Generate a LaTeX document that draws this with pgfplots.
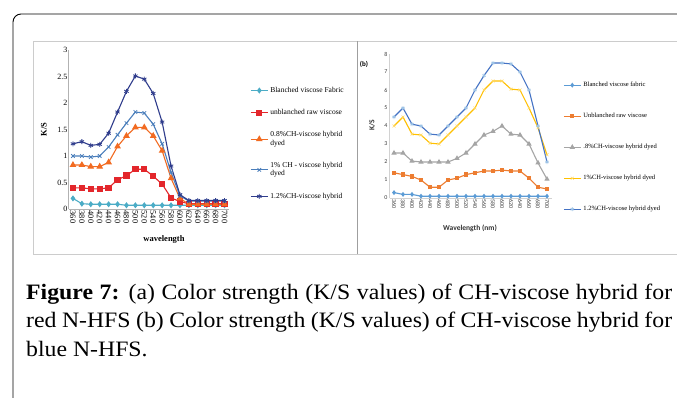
\documentclass[border=0pt]{standalone}
\usepackage{fontspec}
\setmainfont{Liberation Serif}
\newfontfamily\calibri{Carlito}
\newfontfamily\capfont{Liberation Serif}[FakeStretch=1.08]
\usepackage{pgfplots}
\usepackage{pgfplotstable}
\pgfplotsset{compat=1.18}

\definecolor{lcyan}{HTML}{4BACC6}
\definecolor{lred}{HTML}{E3262B}
\definecolor{lorange}{HTML}{F26B21}
\definecolor{lblue}{HTML}{4A7EBB}
\definecolor{lnavy}{HTML}{2F3C8C}
\definecolor{rblue}{HTML}{5B9BD5}
\definecolor{rorange}{HTML}{ED7D31}
\definecolor{rgray}{HTML}{A5A5A5}
\definecolor{ryellow}{HTML}{FFC000}
\definecolor{rdblue}{HTML}{4472C4}

% (a) red N-HFS
\pgfplotstableread{
x a b c d e
0  0.20 0.40 0.83 1.00 1.23
1  0.10 0.40 0.83 1.00 1.27
2  0.09 0.38 0.80 0.98 1.20
3  0.09 0.38 0.80 1.00 1.22
4  0.09 0.40 0.88 1.17 1.43
5  0.09 0.55 1.18 1.40 1.83
6  0.07 0.63 1.38 1.62 2.22
7  0.07 0.75 1.54 1.83 2.51
8  0.07 0.75 1.54 1.81 2.45
9  0.07 0.62 1.38 1.60 2.18
10 0.07 0.47 1.10 1.23 1.64
11 0.07 0.21 0.58 0.69 0.81
12 0.07 0.14 0.20 0.25 0.27
13 0.07 0.10 0.09 0.15 0.16
14 0.07 0.10 0.09 0.15 0.16
15 0.07 0.10 0.09 0.15 0.16
16 0.07 0.10 0.09 0.15 0.16
17 0.07 0.10 0.09 0.15 0.16
}\tableA

% (b) blue N-HFS
\pgfplotstableread{
x a b c d e
0  0.30 1.40 2.50 4.00 4.50
1  0.20 1.30 2.50 4.50 5.00
2  0.20 1.20 2.05 3.55 4.10
3  0.10 1.00 2.00 3.50 4.00
4  0.10 0.60 2.00 3.05 3.55
5  0.10 0.60 2.00 3.00 3.50
6  0.10 1.00 2.00 3.50 4.00
7  0.10 1.10 2.20 4.00 4.50
8  0.10 1.30 2.50 4.50 5.00
9  0.10 1.40 3.00 5.00 6.00
10 0.10 1.50 3.50 6.00 6.80
11 0.10 1.50 3.70 6.50 7.50
12 0.10 1.55 4.00 6.50 7.50
13 0.10 1.50 3.55 6.05 7.45
14 0.10 1.50 3.50 6.00 7.00
15 0.10 1.10 3.00 5.00 6.00
16 0.10 0.60 1.95 3.90 4.00
17 0.10 0.50 1.05 2.40 2.00
}\tableB

\begin{document}
\begin{tikzpicture}
\useasboundingbox (0pt,0pt) rectangle (677pt,397pt);
\fill[white] (0pt,0pt) rectangle (677pt,397pt);
% outer frame
\draw[black, line width=0.9pt, rounded corners=8pt] (13pt,-10pt) -- (13pt,383pt) -- (700pt,383pt);
% panels
\draw[gray!40, line width=0.6pt] (33pt,143pt) rectangle (357pt,356pt);
\draw[gray!40, line width=0.6pt] (357pt,356pt) -- (690pt,356pt);
\draw[gray!40, line width=0.6pt] (357pt,143pt) -- (690pt,143pt);
\draw[gray!75, line width=1pt] (357pt,143pt) -- (357pt,356pt);

% ---------- (a) ----------
\begin{axis}[
  at={(68.5pt,188pt)}, anchor=south west, scale only axis,
  width=160.5pt, height=159pt,
  xmin=-0.5, xmax=17.5, ymin=0, ymax=3,
  axis lines*=left, axis line style={gray!60, line width=0.5pt},
  tick style={draw=none},
  xtick={0,...,17},
  xticklabels={360,380,400,420,440,460,480,500,520,540,560,580,600,620,640,660,680,700},
  ytick={0,0.5,1,1.5,2,2.5,3},
  yticklabels={0,0.5,1,1.5,2,2.5,3},
  /pgf/number format/assume math mode=true,
  x tick label style={rotate=-90, anchor=west, font=\fontsize{8.3}{8.3}\selectfont, inner sep=1.5pt},
  y tick label style={font=\fontsize{8}{8}\selectfont, inner sep=1pt},
  ylabel={\textbf{K/S}}, xlabel={\textbf{wavelength}},
  label style={font=\fontsize{8.5}{9}\selectfont},
  ylabel style={at={(axis description cs:-0.153,0.5)}, anchor=center},
  xlabel style={at={(axis description cs:0.595,-0.189)}, anchor=center},
  legend style={at={(axis description cs:1.131,0.78)}, anchor=north west,
    draw=none, fill=none, font=\fontsize{7.5}{8.5}\selectfont,
    row sep=11.5pt, cells={align=left}, inner sep=0pt},
  legend cell align=left,
  every axis plot/.append style={line width=1.1pt},
]
\addplot[color=lcyan, mark=diamond*, mark size=2.2pt] table[x=x,y=a]{\tableA};
\addlegendentry{Blanched viscose Fabric}
\addplot[color=lred, mark=square*, mark size=2.6pt] table[x=x,y=b]{\tableA};
\addlegendentry{unblanched raw viscose}
\addplot[color=lorange, mark=triangle*, mark size=2.8pt] table[x=x,y=c]{\tableA};
\addlegendentry{0.8\%CH-viscose hybrid\\dyed}
\addplot[color=lblue, mark=x, mark size=2.5pt, mark options={line width=0.8pt}] table[x=x,y=d]{\tableA};
\addlegendentry{1\% CH - viscose hybrid\\dyed}
\addplot[color=lnavy, mark=asterisk, mark size=2.5pt, mark options={line width=0.8pt}] table[x=x,y=e]{\tableA};
\addlegendentry{1.2\%CH-viscose hybrid}
\end{axis}

% ---------- (b) ----------
\node[anchor=center, font=\calibri\bfseries\fontsize{7}{7}\selectfont] at (364pt,333pt) {(b)};
\begin{axis}[
  at={(389.5pt,199pt)}, anchor=south west, scale only axis,
  width=162pt, height=144pt,
  xmin=-0.5, xmax=17.5, ymin=0, ymax=8,
  axis lines*=left, axis line style={gray!35, line width=0.5pt},
  tick style={draw=none},
  xtick={0,...,17},
  xticklabels={360,380,400,420,440,460,480,500,520,540,560,580,600,620,640,660,680,700},
  ytick={0,1,...,8},
  yticklabels={0,1,2,3,4,5,6,7,8},
  /pgf/number format/assume math mode=true,
  x tick label style={rotate=-90, anchor=west, font=\calibri\fontsize{6}{6}\selectfont, text=black!75, inner sep=1.5pt},
  y tick label style={font=\calibri\fontsize{6}{6}\selectfont, text=black!75, inner sep=2pt},
  ylabel={K/S}, xlabel={Wavelength (nm)},
  label style={font=\calibri\bfseries\fontsize{7.5}{8}\selectfont, text=black!80},
  ylabel style={at={(axis description cs:-0.108,0.507)}, anchor=center},
  xlabel style={at={(axis description cs:0.497,-0.208)}, anchor=center},
  legend style={at={(axis description cs:1.071,0.82)}, anchor=north west,
    draw=none, fill=none, font=\fontsize{6.5}{7}\selectfont,
    row sep=21pt, inner sep=0pt},
  legend cell align=left,
  every axis plot/.append style={line width=1.1pt},
]
\addplot[color=rblue, mark=diamond*, mark size=1.6pt] table[x=x,y=a]{\tableB};
\addlegendentry{Blanched viscose fabric}
\addplot[color=rorange, mark=square*, mark size=1.6pt] table[x=x,y=b]{\tableB};
\addlegendentry{Unblanched raw viscose}
\addplot[color=rgray, mark=triangle*, mark size=2pt] table[x=x,y=c]{\tableB};
\addlegendentry{.8\%CH-viscose hybrid dyed}
\addplot[color=ryellow, mark=x, mark size=2pt, mark options={line width=0.6pt, color=ryellow!60}] table[x=x,y=d]{\tableB};
\addlegendentry{1\%CH-viscose hybrid dyed}
\addplot[color=rdblue, mark=asterisk, mark size=2pt, mark options={line width=0.6pt, color=rblue!60}] table[x=x,y=e]{\tableB};
\addlegendentry{1.2\%CH-viscose hybrid dyed}
\end{axis}

% caption
\node[anchor=base west, inner sep=0pt, font=\capfont\fontsize{22}{28}\selectfont] at (26pt,98pt)
  {\makebox[646pt][s]{\textbf{Figure 7:} (a) Color strength (K/S values) of CH-viscose hybrid for}};
\node[anchor=base west, inner sep=0pt, font=\capfont\fontsize{22}{28}\selectfont] at (26pt,69.5pt)
  {\makebox[646pt][s]{red N-HFS (b) Color strength (K/S values) of CH-viscose hybrid for}};
\node[anchor=base west, inner sep=0pt, font=\capfont\fontsize{22}{28}\selectfont] at (26pt,41pt)
  {blue N-HFS.};
\end{tikzpicture}
\end{document}
